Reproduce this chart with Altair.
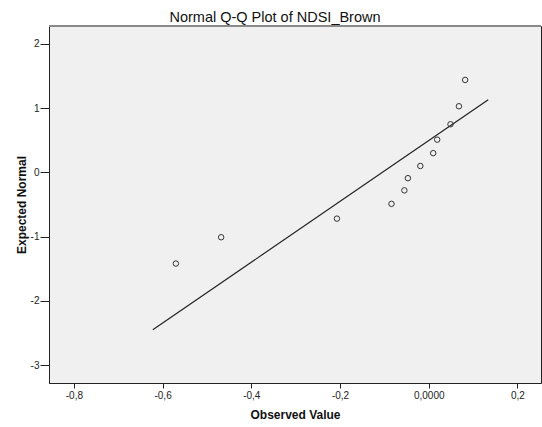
import altair as alt
import pandas as pd

observed = [-0.570, -0.468, -0.207, -0.084, -0.055, -0.047, -0.019, 0.010, 0.019, 0.049, 0.068, 0.082]
expected = [-1.42, -1.01, -0.72, -0.49, -0.28, -0.09, 0.10, 0.30, 0.51, 0.75, 1.03, 1.44]

line_x = [-0.622, 0.134]
line_y = [-2.45, 1.13]

x_ticks = [-0.8, -0.6, -0.4, -0.2, 0.0, 0.2]
y_ticks = [-3, -2, -1, 0, 1, 2]

pts = pd.DataFrame({"obs": observed, "exp": expected})
ln = pd.DataFrame({"obs": line_x, "exp": line_y})

FONT = "Liberation Sans"

xscale = alt.Scale(domain=[-0.856, 0.253], nice=False, zero=False)
yscale = alt.Scale(domain=[-3.28, 2.28], nice=False, zero=False)

xaxis = alt.Axis(
    title="Observed Value", values=x_ticks, grid=False, tickSize=5,
    labelPadding=2, labelFontSize=10, labelFont=FONT, labelColor="#222",
    labelExpr="datum.value == 0 ? '0,0000' : (datum.value < 0 ? '-' : '') + '0,' + round(abs(datum.value) * 10)",
    titleFont=FONT, titleFontSize=12, titleFontWeight="bold", titleColor="#111",
    titleY=26, titleBaseline="top",
    domainColor="#222", tickColor="#222",
)
yaxis = alt.Axis(
    title="Expected Normal", values=y_ticks, grid=False, tickSize=9,
    labelPadding=1, labelFontSize=10, labelFont=FONT, labelColor="#222",
    labelExpr="datum.value < 0 ? '-' + abs(datum.value) : '' + datum.value",
    titleFont=FONT, titleFontSize=12, titleFontWeight="bold", titleColor="#111",
    titleX=-21,
    domainColor="#222", tickColor="#222",
)

points = alt.Chart(pts).mark_point(
    shape="circle", filled=False, size=30, strokeWidth=1, color="#333", opacity=1
).encode(
    x=alt.X("obs:Q", scale=xscale, axis=xaxis),
    y=alt.Y("exp:Q", scale=yscale, axis=yaxis),
)

line = alt.Chart(ln).mark_line(color="#222", strokeWidth=1.2).encode(
    x=alt.X("obs:Q", scale=xscale),
    y=alt.Y("exp:Q", scale=yscale),
)

top = alt.Chart(pd.DataFrame({"a": [0]})).mark_rule(color="#8a8a8a", strokeWidth=2).encode(
    x=alt.value(0), x2=alt.value(492), y=alt.value(0)
)

chart = alt.layer(line, points, top).properties(
    width=492, height=357,
    autosize=alt.AutoSizeParams(type="none"),
    padding={"left": 49, "top": 26, "right": 1, "bottom": 44},
    background="white",
    title=alt.TitleParams(
        "Normal Q-Q Plot of NDSI_Brown", font=FONT, fontSize=14.5, fontWeight="normal",
        color="#111", anchor="middle", frame="group", dx=-20, dy=17, offset=6, baseline="alphabetic",
    ),
).configure_view(fill="#F0F0F0", stroke="#222", strokeWidth=1)

chart.save("out.html", embed_options={"renderer": "svg", "actions": False})
